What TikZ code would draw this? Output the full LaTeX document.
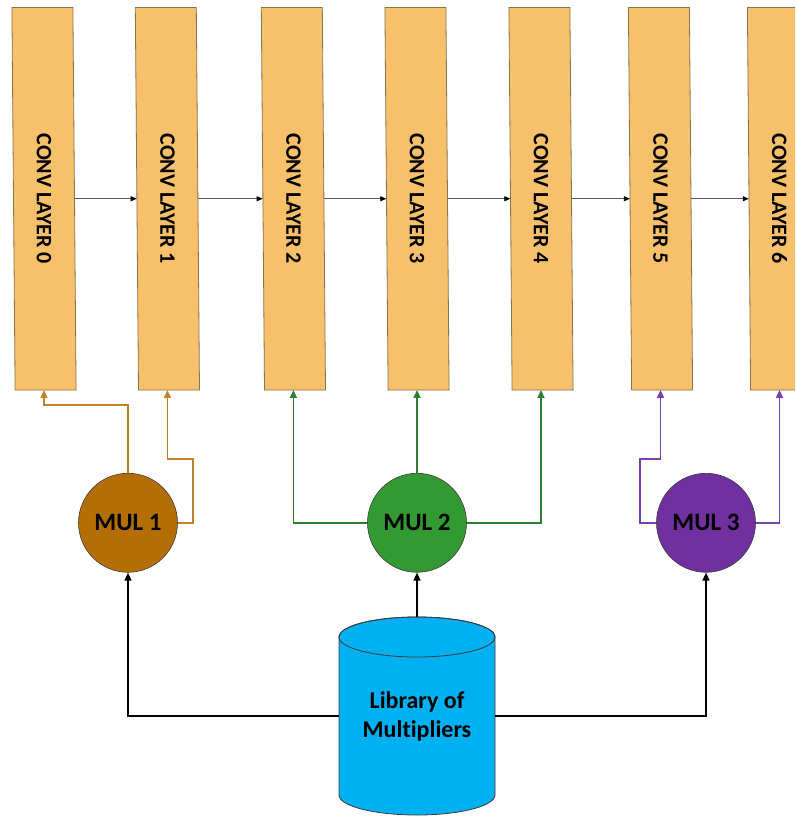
\documentclass[tikz,border=0pt]{standalone}
\usepackage{fontspec}
\setmainfont[Ligatures=NoCommon]{Carlito}
\usetikzlibrary{arrows.meta}
\definecolor{layerfill}{RGB}{247,192,106}
\definecolor{layeredge}{RGB}{135,115,80}
\definecolor{mulA}{RGB}{180,110,6}
\definecolor{mulAline}{RGB}{196,130,40}
\definecolor{mulB}{RGB}{51,153,51}
\definecolor{mulBline}{RGB}{46,125,50}
\definecolor{mulC}{RGB}{112,48,160}
\definecolor{mulCline}{RGB}{124,62,176}
\definecolor{libfill}{RGB}{0,176,240}
\definecolor{inkline}{RGB}{60,60,60}
\begin{document}
\begin{tikzpicture}[x=1pt,y=-1pt,
  layerbox/.style={fill=layerfill,draw=layeredge,line width=0.8pt},
  layer/.style={minimum width=61pt,minimum height=382pt,inner sep=0pt,
    font=\fontsize{22}{26}\selectfont\bfseries},
  flow/.style={draw=gray!70!black,line width=0.8pt,-{Triangle[length=6pt,width=5pt,color=black]}},
  mul/.style={circle,minimum size=99pt,inner sep=0pt,draw=inkline,line width=0.6pt,
    font=\fontsize{25}{30}\selectfont\bfseries},
  feed/.style={line width=1.6pt,-{Triangle[length=8pt,width=7pt]}},
  libline/.style={draw=black,line width=1.4pt,-{Triangle[length=8pt,width=7pt]}},
  cyl/.style={fill=libfill,draw=inkline,line width=0.8pt}]
\clip (0,0) rectangle (795,816);

% convolution layers, each a slightly leaning box
\foreach \k/\cx in {0/44,1/167.4,2/293.4,3/417,4/541,5/660.5,6/779.5} {
  \filldraw[layerbox] (\cx-32.1,7.5) -- (\cx+28.9,7.5) -- (\cx+32.1,390) -- (\cx-28.9,390) -- cycle;
  \node[layer] (L\k) at (\cx,198.75) {\rotatebox{-90}{CONV LAYER \k}};
}
\foreach \a/\b in {0/1,1/2,2/3,3/4,4/5,5/6}
  \draw[flow] (L\a) -- (L\b);

% multipliers
\node[mul,fill=mulA] (M1) at (128,522.8) {MUL 1};
\node[mul,fill=mulB] (M2) at (417,522.8) {MUL 2};
\node[mul,fill=mulC] (M3) at (706,522.8) {MUL 3};

% multiplier 1 feeds layers 0 and 1
\draw[feed,mulAline] (M1.north) -- ++(0,-68) -| (L0.south);
\draw[feed,mulAline] (M1.east) -- ++(15,0) -- ++(0,-64) -| (L1.south);
% multiplier 2 feeds layers 2, 3 and 4
\draw[feed,mulBline] (M2.west) -| (L2.south);
\draw[feed,mulBline] (M2.north) -- (L3.south);
\draw[feed,mulBline] (M2.east) -| (L4.south);
% multiplier 3 feeds layers 5 and 6
\draw[feed,mulCline] (M3.west) -- ++(-16,0) -- ++(0,-64) -| (L5.south);
\draw[feed,mulCline] (M3.east) -| (L6.south);

% library cylinder
\path[cyl] (339,637) -- (339,795) arc[start angle=180,end angle=0,x radius=78,y radius=20]
  -- (495,637) arc[start angle=0,end angle=-180,x radius=78,y radius=20] -- cycle;
\draw[inkline,line width=0.8pt] (417,637) ellipse[x radius=78,y radius=20];
\node[minimum width=156pt,minimum height=198pt,inner sep=0pt,align=center,
  font=\fontsize{24}{29}\selectfont\bfseries] (Lib) at (417,716) {Library of\\Multipliers};

\draw[libline] (Lib.north) -- (M2.south);
\draw[libline] (Lib.west) -| (M1.south);
\draw[libline] (Lib.east) -| (M3.south);
\end{tikzpicture}
\end{document}
